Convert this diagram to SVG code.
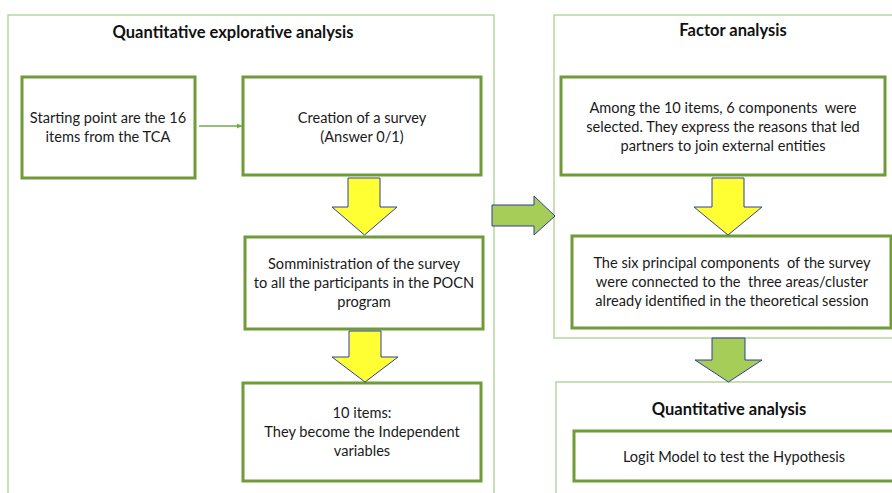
<svg xmlns="http://www.w3.org/2000/svg" width="892" height="493" viewBox="0 0 892 493">
<style>
.cont{fill:#fff;stroke:#a9d18e;stroke-width:1.3}
.box{fill:#fff;stroke:#6f9b38;stroke-width:3}
.t{font-family:Lato,"Liberation Sans",sans-serif;font-size:14.6px;fill:#1a1a1a;text-anchor:middle;white-space:pre}
.h{font-family:Lato,"Liberation Sans",sans-serif;font-size:16.5px;font-weight:bold;fill:#111;text-anchor:middle}
.ya{fill:#ffff33;stroke:#2f3f9f;stroke-width:1}
.ga{fill:#a5cd57;stroke:#2f3f9f;stroke-width:1}
</style>
<defs>
<marker id="ah" markerWidth="6" markerHeight="6" refX="5" refY="3" orient="auto" markerUnits="userSpaceOnUse">
<path d="M0,0.5 L5,3 L0,5.5 Z" fill="#70ad47"/>
</marker>
</defs>
<rect width="892" height="493" fill="#fff"/>
<g id="container-left">
<rect class="cont" x="8" y="15" width="486" height="490"/>
<text class="h" x="233" y="38">Quantitative explorative analysis</text>
</g>
<g id="container-factor">
<rect class="cont" x="554" y="15" width="350" height="323"/>
<text class="h" x="733" y="36">Factor analysis</text>
</g>
<g id="container-quant">
<rect class="cont" x="556" y="382" width="350" height="130"/>
<text class="h" x="729" y="415">Quantitative analysis</text>
</g>
<g id="node-start">
<rect class="box" x="22" y="77" width="173" height="101"/>
<text class="t" x="108" y="123">Starting point are the 16</text>
<text class="t" x="108" y="142">items from the TCA</text>
</g>
<g id="node-creation">
<rect class="box" x="243" y="77" width="238" height="98"/>
<text class="t" x="362" y="123">Creation of a survey</text>
<text class="t" x="362" y="142">(Answer 0/1)</text>
</g>
<g id="node-somm">
<rect class="box" x="245" y="237" width="238" height="92"/>
<text class="t" x="364" y="269">Somministration of the survey</text>
<text class="t" x="364" y="288">to all the participants in the POCN</text>
<text class="t" x="364" y="307">program</text>
</g>
<g id="node-items">
<rect class="box" x="243" y="383" width="238" height="98"/>
<text class="t" x="362" y="418">10 items:</text>
<text class="t" x="362" y="437">They become the Independent</text>
<text class="t" x="362" y="456">variables</text>
</g>
<g id="node-among">
<rect class="box" x="561" y="77" width="324" height="98"/>
<text class="t" x="723" y="113">Among the 10 items, 6 components  were</text>
<text class="t" x="723" y="132">selected. They express the reasons that led</text>
<text class="t" x="723" y="151">partners to join external entities</text>
</g>
<g id="node-six">
<rect class="box" x="572" y="236" width="319" height="92"/>
<text class="t" x="732" y="268">The six principal components  of the survey</text>
<text class="t" x="732" y="287">were connected to the  three areas/cluster</text>
<text class="t" x="732" y="306">already identified in the theoretical session</text>
</g>
<g id="node-logit">
<rect class="box" x="574" y="431" width="320" height="50"/>
<text class="t" x="734" y="462">Logit Model to test the Hypothesis</text>
</g>
<g id="connectors">
<line x1="199" y1="126" x2="242" y2="126" stroke="#70ad47" stroke-width="1.3" marker-end="url(#ah)"/>
<path class="ya" d="M348,178 H380 V207 H397 L364.5,235 L332,207 H348 Z"/>
<path class="ya" d="M349,331 H381 V357 H398 L365,382 L332,357 H349 Z"/>
<path class="ya" d="M712,178 H744 V207 H762 L728,235 L694,207 H712 Z"/>
<path class="ga" d="M712,338 H745 V360 H762 L728.5,382 L695,360 H712 Z"/>
<path class="ga" d="M492,205 H534 V196 L555,216 L534,235 V226 H492 Z"/>
</g>
</svg>
